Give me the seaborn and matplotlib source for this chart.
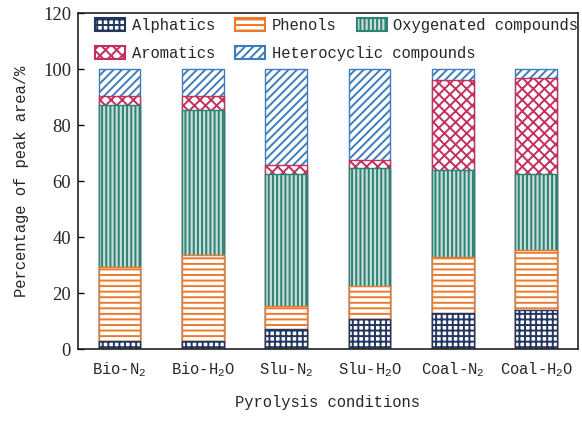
import numpy as np
import matplotlib
matplotlib.use("Agg")
import matplotlib.pyplot as plt
from matplotlib.patches import Patch
import seaborn as sns

# Pyrolysis conditions (x categories)
conditions = ["Bio-N$_2$", "Bio-H$_2$O", "Slu-N$_2$", "Slu-H$_2$O", "Coal-N$_2$", "Coal-H$_2$O"]

# Peak-area percentages of each compound class
alphatics = [3.0, 3.0, 7.1, 10.8, 12.7, 14.1]
phenols = [26.2, 30.5, 8.2, 11.7, 20.0, 21.1]
oxygenated = [57.9, 51.8, 47.2, 42.0, 31.3, 27.3]
aromatics = [3.1, 4.9, 3.2, 2.9, 32.2, 34.2]
heterocyclic = [9.8, 9.8, 34.3, 32.6, 3.8, 3.3]

series_names = ["Alphatics", "Phenols", "Oxygenated compounds", "Aromatics", "Heterocyclic compounds"]
series_values = [alphatics, phenols, oxygenated, aromatics, heterocyclic]
y_ticks = [0, 20, 40, 60, 80, 100, 120]

colors = ["#22365f", "#ec7a2c", "#2a8373", "#c2305c", "#3f7cbd"]
faces = ["white", "white", "#c9dcd8", "white", "white"]
hatches = ["+++", "---", "||||", "xxx", "////"]

sns.set_theme(style="ticks")
plt.rcParams["font.family"] = ["Liberation Mono", "DejaVu Sans"]
plt.rcParams["mathtext.fontset"] = "custom"
plt.rcParams["mathtext.rm"] = "Liberation Mono"
plt.rcParams["mathtext.it"] = "Liberation Mono:italic"
plt.rcParams["hatch.linewidth"] = 1.4

fig = plt.figure(figsize=(5.82, 4.21), dpi=100)
ax = fig.add_axes([0.134, 0.171, 0.859, 0.798])

# Stacked bars: draw cumulative totals from the top segment downwards
cum = np.cumsum(np.array(series_values), axis=0)
for i in range(len(series_values) - 1, -1, -1):
    n0 = len(ax.patches)
    sns.barplot(x=conditions, y=cum[i], width=0.5, errorbar=None, ax=ax)
    for p in ax.patches[n0:]:
        p.set_facecolor(faces[i])
        p.set_edgecolor(colors[i])
        p.set_hatch(hatches[i])
        p.set_linewidth(1.0)

ax.set_xlim(-0.5, 5.5)
ax.set_ylim(0, 120)
ax.set_yticks(y_ticks)
ax.set_yticklabels([str(v) for v in y_ticks], fontfamily="Liberation Serif", fontsize=13.4)
ax.tick_params(axis="both", direction="in", length=4, width=1, color="black")
ax.tick_params(axis="x", labelsize=11.2, pad=8)
ax.tick_params(axis="y", pad=5)
for s in ax.spines.values():
    s.set_visible(True)
    s.set_color("#222222")
    s.set_linewidth(1.2)

ax.set_xlabel("Pyrolysis conditions", fontsize=11.2, labelpad=12)
ax.set_ylabel("Percentage of peak area/%", fontsize=11.2, labelpad=10)

handles = [Patch(facecolor=f, edgecolor=c, hatch=h, linewidth=1.5)
           for f, c, h in zip(faces, colors, hatches)]
leg_kw = dict(frameon=False, fontsize=11.2, handlelength=1.95, handleheight=0.9,
              handletextpad=0.4, columnspacing=1.3, borderpad=0, borderaxespad=0, loc="upper left")
leg1 = ax.legend(handles[:3], series_names[:3], ncol=3, bbox_to_anchor=(0.034, 0.985), **leg_kw)
ax.add_artist(leg1)
ax.legend(handles[3:], series_names[3:], ncol=2, bbox_to_anchor=(0.034, 0.902), **leg_kw)

fig.savefig("out.png", dpi=100)
